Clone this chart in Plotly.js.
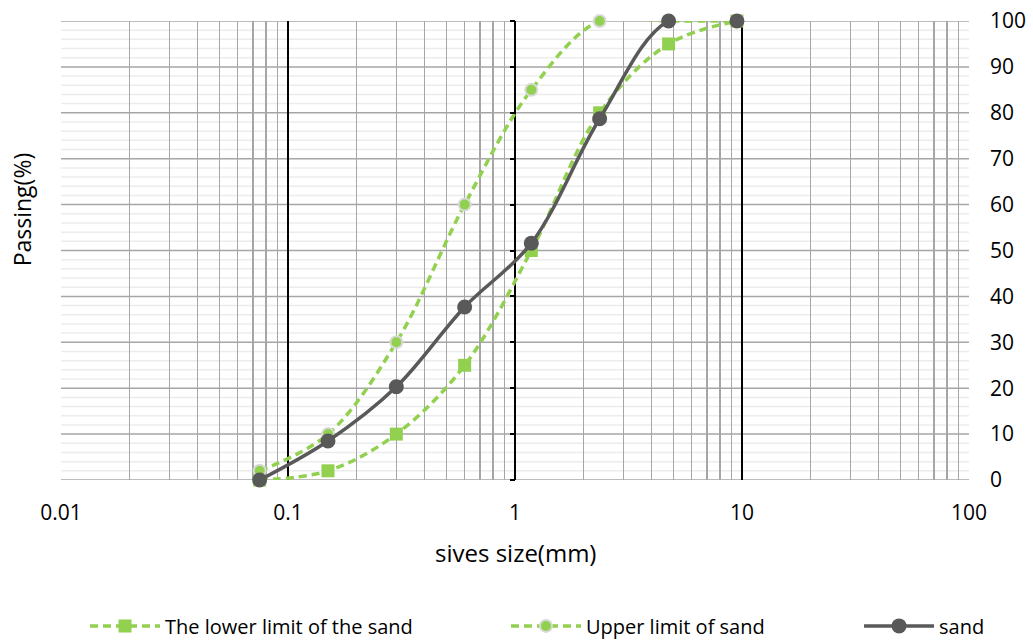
<!DOCTYPE html>
<html><head><meta charset="utf-8">
<script src="https://cdn.plot.ly/plotly-3.0.1.min.js"></script>
<style>body{margin:0;background:#fff}#chart{width:1033px;height:640px}</style>
</head><body><div id="chart"></div>
<script>
const sieveSizes = [0.075, 0.15, 0.3, 0.6, 1.18, 2.36, 4.75, 9.5];
const lowerLimit = [0, 2, 10, 25, 50, 80, 95, 100];
const upperLimit = [2, 10, 30, 60, 85, 100, 100, 100];
const sandPassing = [0, 8.5, 20.3, 37.7, 51.6, 78.7, 100, 100];
const seriesNames = ["The lower limit of the sand", "Upper limit of sand", "sand"];
const xTickVals = [0.01, 0.1, 1, 10, 100];
const xTickText = ["0.01", "0.1", "1", "10", "100"];
const yTickVals = [0, 10, 20, 30, 40, 50, 60, 70, 80, 90, 100];

const green = "#92D050", grey = "#595959";
const FONT = "'Open Sans', sans-serif";

const traces = [
  {x: sieveSizes, y: lowerLimit, name: seriesNames[0], type: "scatter", mode: "lines+markers", cliponaxis: false,
   line: {color: green, width: 3.5, dash: "8px,5px", shape: "spline", smoothing: 1},
   marker: {symbol: "square", size: 13, color: green}, legend: "legend"},
  {x: sieveSizes, y: upperLimit, name: seriesNames[1], type: "scatter", mode: "lines+markers", cliponaxis: false,
   line: {color: green, width: 3.5, dash: "8px,5px", shape: "spline", smoothing: 1},
   marker: {symbol: "circle", size: 12, color: green, line: {color: "#d9d9d9", width: 2}}, legend: "legend2"},
  {x: sieveSizes, y: sandPassing, name: seriesNames[2], type: "scatter", mode: "lines+markers", cliponaxis: false,
   line: {color: grey, width: 3.5, shape: "spline", smoothing: 1},
   marker: {symbol: "circle", size: 15, color: grey}, legend: "legend3"}
];
// invisible trace so the tick axis at x = 1 is drawn
traces.unshift({x: [1], y: [0], yaxis: "y2", mode: "markers", marker: {opacity: 0}, showlegend: false, hoverinfo: "skip"});

// horizontal grid as shapes below vertical gridlines
const shapes = [];
for (let v = 0; v <= 100; v += 2) {
  const major = yTickVals.indexOf(v) >= 0;
  shapes.push({type: "line", layer: "below", xref: "paper", yref: "y", x0: 0, x1: 1, y0: v, y1: v,
    line: {color: major ? "#a6a6a6" : "#ececec", width: 1.5}});
}

const legendBase = {orientation: "h", xref: "container", yref: "container", y: 0.022, yanchor: "middle",
  itemwidth: 70, font: {family: FONT, size: 20, color: "#000"}, bgcolor: "rgba(0,0,0,0)"};

const layout = {
  width: 1033, height: 640,
  margin: {l: 61, r: 64, t: 21, b: 160},
  paper_bgcolor: "#fff", plot_bgcolor: "#fff",
  font: {family: FONT, size: 20, color: "#000"},
  showlegend: true,
  legend: Object.assign({}, legendBase, {x: 0.0823}),
  legend2: Object.assign({}, legendBase, {x: 0.4898}),
  legend3: Object.assign({}, legendBase, {x: 0.8316}),
  shapes: shapes,
  xaxis: {
    type: "log", range: [-2, 2],
    tickvals: xTickVals, ticktext: xTickText,
    showgrid: true, gridcolor: "#000", gridwidth: 2,
    minor: {dtick: "D1", showgrid: true, gridcolor: "#a6a6a6", gridwidth: 1.5, ticks: ""},
    ticks: "", showline: false, zeroline: false,
    ticklabelstandoff: 18,
    tickfont: {family: FONT, size: 21, color: "#000"}
  },
  yaxis: {
    side: "right", range: [0, 100], tickvals: yTickVals,
    showgrid: false, ticks: "", showline: false, zeroline: false,
    ticklabelstandoff: 20,
    tickfont: {family: FONT, size: 21, color: "#000"}
  },
  yaxis2: {
    overlaying: "y", anchor: "free", position: 0.5, side: "left",
    range: [0, 100], tickvals: yTickVals, ticks: "outside", ticklen: 5, tickwidth: 2, tickcolor: "#000",
    showticklabels: false, showgrid: false, zeroline: false, showline: false
  },
  annotations: [
    {text: "Passing(%)", xref: "paper", yref: "paper", x: -0.0433, y: 0.589, xanchor: "center", yanchor: "middle",
     textangle: -90, showarrow: false, font: {family: FONT, size: 23, color: "#000"}},
    {text: "sives size(mm)", xref: "paper", yref: "paper", x: 0.5, y: -0.159, xanchor: "center", yanchor: "middle",
     showarrow: false, font: {family: FONT, size: 24, color: "#000"}}
  ]
};

Plotly.newPlot("chart", traces, layout, {displayModeBar: false, staticPlot: true});
</script></body></html>
